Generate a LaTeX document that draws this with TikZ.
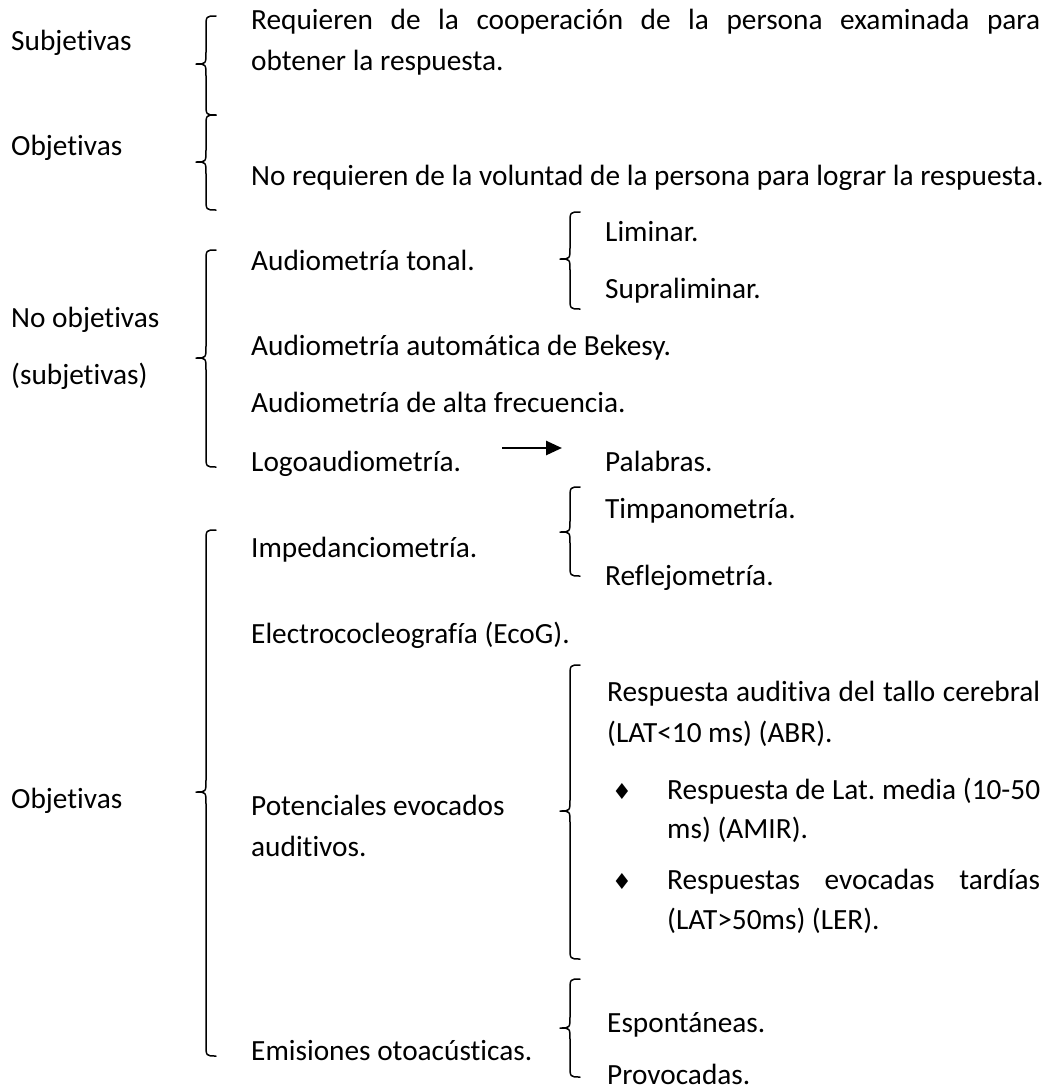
\documentclass[tikz,border=0pt]{standalone}
\usepackage{fontspec}
\setmainfont{Carlito}[Ligatures=NoCommon]
\newfontfamily\symfont{DejaVu Sans}
\usetikzlibrary{arrows.meta}
\frenchspacing
\newcommand\wbrace[4]{%
  \draw[brc] (#1+10,#2) .. controls (#1,#2) .. (#1,#2+12) -- (#1,#3-12)
    .. controls (#1,#3) .. (#1-10,#3) .. controls (#1,#3) .. (#1,#3+12)
    -- (#1,#4-12) .. controls (#1,#4) .. (#1+10,#4);}
\begin{document}
\begin{tikzpicture}[x=1pt,y=-1pt,
  txt/.style={anchor=base west,inner sep=0pt,font=\fontsize{29.3}{35}\selectfont},
  bul/.style={anchor=base west,inner sep=0pt,font=\symfont\fontsize{22}{26}\selectfont},
  brc/.style={line width=1.5pt,line join=round,line cap=round},
  conn/.style={line width=2.6pt,-{Triangle[length=16pt,width=14pt]}}]
\useasboundingbox (0,0) rectangle (1060,1090);
% left labels
\node[txt] (subj) at (11,50) {Subjetivas};
\node[txt] (obj1) at (11,155) {Objetivas};
\node[txt] (noobj) at (11,327) {No objetivas};
\node[txt] (nosub) at (11,384) {(subjetivas)};
\node[txt] (obj2) at (11,808) {Objetivas};
% main braces
\wbrace{206}{16}{64}{115}
\wbrace{206}{115}{162}{210}
\wbrace{206}{250}{358}{467}
\wbrace{206}{530}{792}{1056}
% sub braces
\wbrace{570}{212}{259}{309}
\wbrace{570}{487}{532}{576}
\wbrace{570}{665}{811}{959}
\wbrace{570}{979}{1028}{1077}
% middle column
\node[txt] (req1) at (251,29) {\makebox[789pt][s]{Requieren de la cooperación de la persona examinada para}};
\node[txt] (req2) at (251,70) {obtener la respuesta.};
\node[txt] (noreq) at (251,185) {No requieren de la voluntad de la persona para lograr la respuesta.};
\node[txt] (tonal) at (251,270) {Audiometría tonal.};
\node[txt] (bek) at (251,355) {Audiometría automática de Bekesy.};
\node[txt] (alta) at (251,412) {Audiometría de alta frecuencia.};
\node[txt] (logo) at (251,471) {Logoaudiometría.};
\node[txt] (imp) at (251,557) {Impedanciometría.};
\node[txt] (eco) at (251,643) {Electrococleografía (EcoG).};
\node[txt] (pot1) at (251,815) {Potenciales evocados};
\node[txt] (pot2) at (251,856) {auditivos.};
\node[txt] (emi) at (251,1060) {Emisiones otoacústicas.};
% right column
\node[txt] (lim) at (605,241) {Liminar.};
\node[txt] (supra) at (605,298) {Supraliminar.};
\node[txt] (pal) at (605,471) {Palabras.};
\node[txt] (timp) at (605,518) {Timpanometría.};
\node[txt] (refl) at (605,585) {Reflejometría.};
\node[txt] (abr1) at (607,701) {\makebox[433pt][s]{Respuesta auditiva del tallo cerebral}};
\node[txt] (abr2) at (607,742) {(LAT<10 ms) (ABR).};
\node[bul] (b1) at (612,799) {♦};
\node[txt] (amir1) at (667,799) {\makebox[373pt][s]{Respuesta de Lat. media (10-50}};
\node[txt] (amir2) at (667,838) {ms) (AMIR).};
\node[bul] (b2) at (612,889) {♦};
\node[txt] (ler1) at (667,889) {\makebox[373pt][s]{Respuestas evocadas tardías}};
\node[txt] (ler2) at (667,929) {(LAT>50ms) (LER).};
\node[txt] (esp) at (607,1032) {Espontáneas.};
\node[txt] (prov) at (607,1084) {Provocadas.};
% arrow
\coordinate (aS) at (502,448);
\coordinate (aE) at (562,448);
\draw[conn] (aS) -- (aE);
\end{tikzpicture}
\end{document}
